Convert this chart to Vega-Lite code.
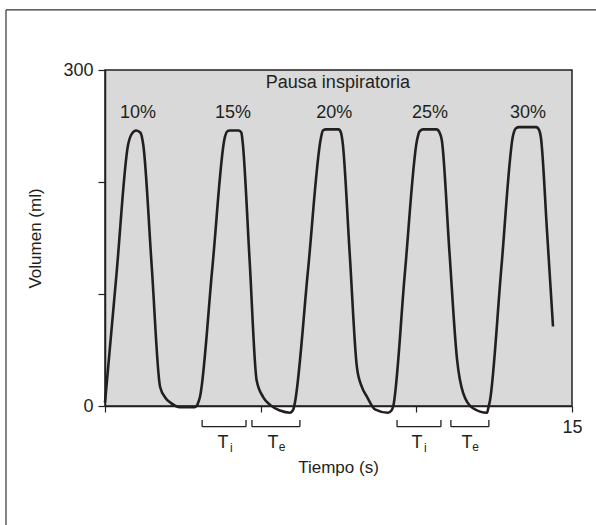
{
  "$schema": "https://vega.github.io/schema/vega-lite/v6.json",
  "width": 467,
  "height": 336,
  "autosize": {"type": "none"},
  "padding": {"left": 105, "top": 70, "right": 24, "bottom": 119},
  "background": "white",
  "config": {
    "view": {"fill": "#d9d9d9", "stroke": "#231f20", "strokeWidth": 1.5},
    "font": "Liberation Sans",
    "axis": {
      "domainColor": "#231f20", "domainWidth": 1.5, "tickColor": "#231f20", "tickWidth": 1.2,
      "labelFont": "Liberation Sans", "labelFontSize": 18, "labelColor": "#231f20",
      "titleFont": "Liberation Sans", "titleFontSize": 17, "titleFontWeight": "normal", "titleColor": "#231f20",
      "grid": false
    }
  },
  "datasets": {
    "curve": [
      {"t": 0, "v": 3}, {"t": 0.37, "v": 118}, {"t": 0.74, "v": 233}, {"t": 0.86, "v": 243}, {"t": 1.0, "v": 246}, {"t": 1.14, "v": 244}, {"t": 1.23, "v": 233},
      {"t": 1.5, "v": 125}, {"t": 1.77, "v": 17}, {"t": 1.95, "v": 7}, {"t": 2.1, "v": 3}, {"t": 2.41, "v": -1}, {"t": 2.89, "v": -1}, {"t": 2.98, "v": 2}, {"t": 3.05, "v": 8},
      {"t": 3.45, "v": 124}, {"t": 3.85, "v": 240}, {"t": 3.92, "v": 245}, {"t": 4.0, "v": 246}, {"t": 4.3, "v": 246}, {"t": 4.38, "v": 244}, {"t": 4.42, "v": 236},
      {"t": 4.645, "v": 130}, {"t": 4.87, "v": 23}, {"t": 5.08, "v": 8}, {"t": 5.3, "v": 1}, {"t": 5.62, "v": -4}, {"t": 5.94, "v": -6}, {"t": 6.05, "v": -3}, {"t": 6.1, "v": 3},
      {"t": 6.52, "v": 121}, {"t": 6.94, "v": 240}, {"t": 7.0, "v": 246}, {"t": 7.1, "v": 247}, {"t": 7.5, "v": 247}, {"t": 7.58, "v": 244}, {"t": 7.63, "v": 236},
      {"t": 7.86, "v": 136}, {"t": 8.09, "v": 35}, {"t": 8.25, "v": 17}, {"t": 8.42, "v": 8}, {"t": 8.67, "v": -3}, {"t": 9.09, "v": -6}, {"t": 9.2, "v": -4}, {"t": 9.25, "v": -1},
      {"t": 9.63, "v": 118}, {"t": 10.02, "v": 237}, {"t": 10.1, "v": 245}, {"t": 10.21, "v": 247}, {"t": 10.65, "v": 247}, {"t": 10.75, "v": 244}, {"t": 10.82, "v": 237},
      {"t": 11.06, "v": 139}, {"t": 11.31, "v": 41}, {"t": 11.5, "v": 12}, {"t": 11.82, "v": -2}, {"t": 12.27, "v": -6}, {"t": 12.31, "v": -2}, {"t": 12.36, "v": 4},
      {"t": 12.73, "v": 123}, {"t": 13.11, "v": 242}, {"t": 13.2, "v": 248}, {"t": 13.3, "v": 249}, {"t": 13.85, "v": 249}, {"t": 13.95, "v": 246}, {"t": 14.0, "v": 240},
      {"t": 14.2, "v": 155}, {"t": 14.39, "v": 71}
    ],
    "pct": [
      {"t": 1.06, "v": 262, "label": "10%"},
      {"t": 4.11, "v": 262, "label": "15%"},
      {"t": 7.36, "v": 262, "label": "20%"},
      {"t": 10.44, "v": 262, "label": "25%"},
      {"t": 13.59, "v": 262, "label": "30%"},
      {"t": 7.48, "v": 288, "label": "Pausa inspiratoria"}
    ],
    "brackets": [
      {"x": 3.12, "x2": 4.53, "y": -18.5, "y2": -18.5},
      {"x": 3.12, "x2": 3.12, "y": -12.5, "y2": -18.5},
      {"x": 4.53, "x2": 4.53, "y": -12.5, "y2": -18.5},
      {"x": 4.72, "x2": 6.26, "y": -18.5, "y2": -18.5},
      {"x": 4.72, "x2": 4.72, "y": -12.5, "y2": -18.5},
      {"x": 6.26, "x2": 6.26, "y": -12.5, "y2": -18.5},
      {"x": 9.38, "x2": 10.79, "y": -18.5, "y2": -18.5},
      {"x": 9.38, "x2": 9.38, "y": -12.5, "y2": -18.5},
      {"x": 10.79, "x2": 10.79, "y": -12.5, "y2": -18.5},
      {"x": 11.11, "x2": 12.33, "y": -18.5, "y2": -18.5},
      {"x": 11.11, "x2": 11.11, "y": -12.5, "y2": -18.5},
      {"x": 12.33, "x2": 12.33, "y": -12.5, "y2": -18.5}
    ],
    "frame": [
      {"x": -3.18, "x2": 15.9, "y": 353.6, "y2": 353.6},
      {"x": -3.18, "x2": -3.18, "y": 353.6, "y2": -110}
    ],
    "tlab": [
      {"t": 3.79, "v": -32.6, "label": "T"},
      {"t": 5.4, "v": -32.6, "label": "T"},
      {"t": 10.02, "v": -32.6, "label": "T"},
      {"t": 11.63, "v": -32.6, "label": "T"}
    ],
    "tsub": [
      {"t": 4.06, "v": -37.5, "label": "i"},
      {"t": 5.69, "v": -37.0, "label": "e"},
      {"t": 10.29, "v": -37.5, "label": "i"},
      {"t": 11.9, "v": -37.0, "label": "e"}
    ]
  },
  "layer": [
    {
      "data": {"name": "curve"},
      "mark": {"type": "line", "interpolate": "monotone", "color": "#231f20", "strokeWidth": 2.6, "strokeJoin": "round"},
      "encoding": {
        "x": {"field": "t", "type": "quantitative", "scale": {"domain": [0, 15], "nice": false, "zero": false},
          "axis": {"values": [0, 5, 10, 15], "labelExpr": "datum.value == 15 ? '15' : ''", "tickSize": 6, "labelPadding": 6,
            "title": "Tiempo (s)", "titleX": 233, "titleY": 61, "titleBaseline": "middle", "titleAlign": "center", "labelFlush": false}},
        "y": {"field": "v", "type": "quantitative", "scale": {"domain": [0, 300], "nice": false},
          "axis": {"values": [0, 100, 200, 300], "labelExpr": "datum.value == 0 || datum.value == 300 ? datum.label : ''", "tickSize": 7, "labelPadding": 5,
            "title": "Volumen (ml)", "titleX": -70, "titleY": 168, "titleBaseline": "middle", "titleAlign": "center", "titleAngle": -90, "labelFlush": false}}
      }
    },
    {
      "data": {"name": "pct"},
      "mark": {"type": "text", "fontSize": 18, "color": "#231f20", "baseline": "middle", "align": "center", "font": "Liberation Sans"},
      "encoding": {
        "x": {"field": "t", "type": "quantitative"},
        "y": {"field": "v", "type": "quantitative"},
        "text": {"field": "label"}
      }
    },
    {
      "data": {"name": "brackets"},
      "mark": {"type": "rule", "color": "#231f20", "strokeWidth": 1.3},
      "encoding": {
        "x": {"field": "x", "type": "quantitative"},
        "x2": {"field": "x2"},
        "y": {"field": "y", "type": "quantitative"},
        "y2": {"field": "y2"}
      }
    },
    {
      "data": {"name": "frame"},
      "mark": {"type": "rule", "color": "#333333", "strokeWidth": 1.2},
      "encoding": {
        "x": {"field": "x", "type": "quantitative"},
        "x2": {"field": "x2"},
        "y": {"field": "y", "type": "quantitative"},
        "y2": {"field": "y2"}
      }
    },
    {
      "data": {"name": "tlab"},
      "mark": {"type": "text", "fontSize": 18, "color": "#231f20", "baseline": "middle", "align": "center", "font": "Liberation Sans"},
      "encoding": {
        "x": {"field": "t", "type": "quantitative"},
        "y": {"field": "v", "type": "quantitative"},
        "text": {"field": "label"}
      }
    },
    {
      "data": {"name": "tsub"},
      "mark": {"type": "text", "fontSize": 12, "color": "#231f20", "baseline": "middle", "align": "center", "font": "Liberation Sans"},
      "encoding": {
        "x": {"field": "t", "type": "quantitative"},
        "y": {"field": "v", "type": "quantitative"},
        "text": {"field": "label"}
      }
    }
  ]
}
